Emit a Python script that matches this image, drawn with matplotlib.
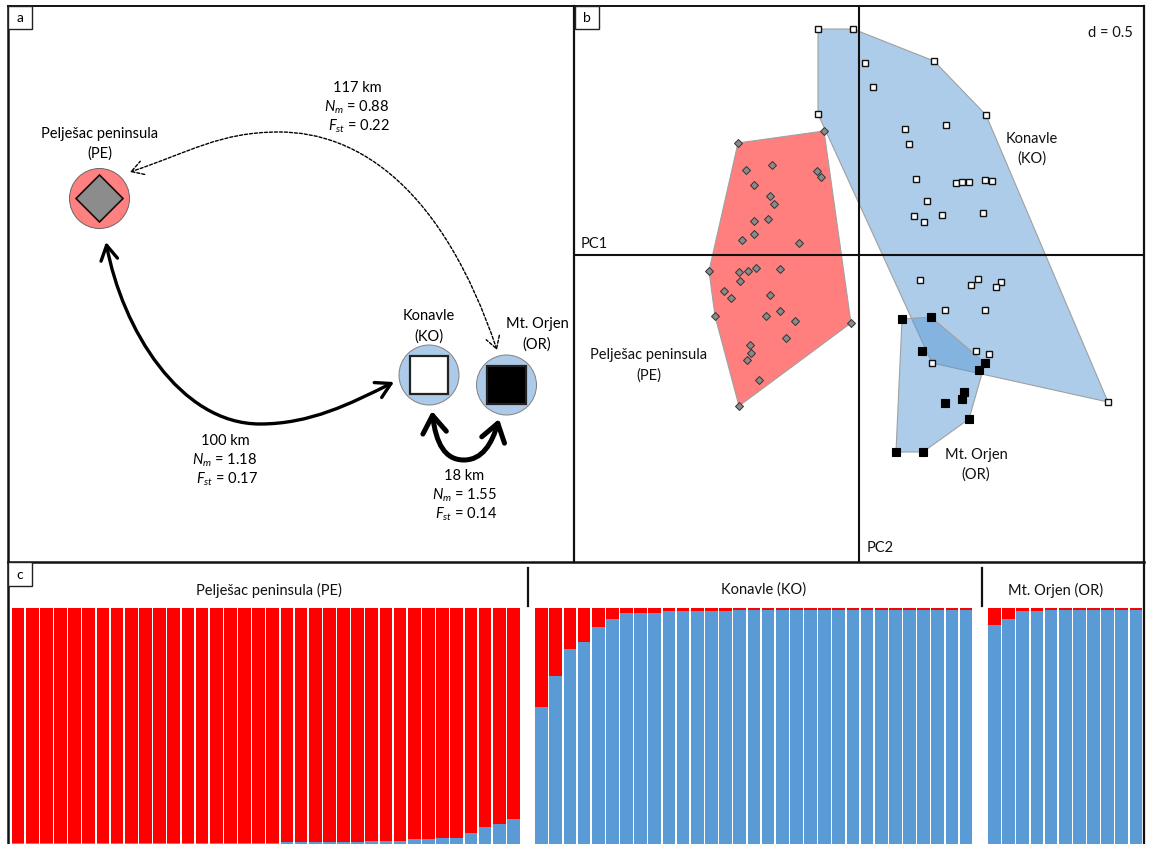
import numpy as np
import matplotlib
matplotlib.use("Agg")
import matplotlib.pyplot as plt
from matplotlib.patches import Circle, Polygon, Rectangle, FancyArrowPatch, ArrowStyle
from matplotlib.path import Path
from matplotlib.lines import Line2D

plt.rcParams['font.family'] = ['Lato', 'DejaVu Sans']
plt.rcParams['mathtext.fontset'] = 'custom'
plt.rcParams['mathtext.rm'] = 'Lato'
plt.rcParams['mathtext.it'] = 'Lato:italic'

# ---------------- data ----------------
populations = ["Pelješac peninsula (PE)", "Konavle (KO)", "Mt. Orjen (OR)"]

# panel b: PCoA scores (PC1 horizontal, PC2 vertical)
pe_pc1 = [-1.21, -0.35, -1.13, -0.87, -0.42, -0.38, -1.05, -0.89, -0.85, -1.05, -0.91, -1.05,
          -1.17, -0.60, -1.50, -1.20, -1.11, -1.03, -0.79, -1.19, -1.35, -1.28, -0.89, -1.44,
          -0.93, -0.79, -0.64, -0.08, -0.73, -1.09, -1.08, -1.12, -1.00, -1.20]
pe_pc2 = [1.12, 1.24, 0.85, 0.90, 0.84, 0.78, 0.70, 0.59, 0.51, 0.34, 0.36, 0.21,
          0.15, 0.12, -0.16, -0.17, -0.16, -0.13, -0.14, -0.26, -0.36, -0.43, -0.40, -0.61,
          -0.61, -0.56, -0.66, -0.68, -0.83, -0.90, -0.98, -1.05, -1.25, -1.51]
ko_pc1 = [-0.41, -0.06, 0.06, 0.14, 0.75, -0.41, 1.27, 0.46, 0.87, 0.50, 0.57, 0.97,
          1.03, 1.10, 1.26, 1.33, 0.68, 0.55, 0.65, 0.83, 1.24, 0.61, 1.19, 1.12,
          1.42, 1.37, 0.86, 1.26, 1.17, 1.30, 0.73, 2.49]
ko_pc2 = [2.26, 2.26, 1.92, 1.68, 1.94, 1.41, 1.40, 1.26, 1.30, 1.11, 0.76, 0.72,
          0.73, 0.73, 0.75, 0.74, 0.54, 0.39, 0.33, 0.40, 0.42, -0.25, -0.24, -0.30,
          -0.27, -0.32, -0.55, -0.55, -0.96, -0.99, -1.08, -1.47]
or_pc1 = [0.43, 0.72, 0.63, 1.26, 1.20, 1.05, 1.03, 0.86, 1.10, 0.37, 0.64]
or_pc2 = [-0.64, -0.62, -0.96, -1.08, -1.15, -1.37, -1.44, -1.48, -1.64, -1.97, -1.97]

# panel c: STRUCTURE membership (K=2), proportion of the blue cluster per individual
pe_blue = [0.003, 0.003, 0.003, 0.003, 0.003, 0.003, 0.006, 0.006, 0.006, 0.006, 0.006, 0.006,
           0.006, 0.006, 0.006, 0.006, 0.006, 0.006, 0.006, 0.010, 0.010, 0.010, 0.010, 0.010,
           0.010, 0.013, 0.013, 0.013, 0.021, 0.021, 0.027, 0.027, 0.047, 0.070, 0.084, 0.107]
ko_blue = [0.579, 0.713, 0.827, 0.854, 0.919, 0.955, 0.977, 0.980, 0.980, 0.989, 0.989, 0.989,
           0.989, 0.989, 0.992, 0.992, 0.992, 0.992, 0.992, 0.992, 0.992, 0.992, 0.992, 0.992,
           0.992, 0.992, 0.992, 0.992, 0.992, 0.992, 0.992]
or_blue = [0.926, 0.955, 0.987, 0.987, 0.992, 0.992, 0.992, 0.992, 0.992, 0.992, 0.992]

# panel a: gene-flow statistics between populations
links = [
    ("PE", "KO", "100 km", "1.18", "0.17"),
    ("KO", "OR", "18 km", "1.55", "0.14"),
    ("PE", "OR", "117 km", "0.88", "0.22"),
]

RED = '#ff0000'
BLUE = '#5b9bd5'
PE_FILL = '#ff8080'
KO_FILL = '#adcbe9'

# ---------------- figure ----------------
W, H = 1149, 845
fig = plt.figure(figsize=(W / 100, H / 100), dpi=100)


def rect(x0, y0, x1, y1):
    return [x0 / W, 1 - y1 / H, (x1 - x0) / W, (y1 - y0) / H]


def fline(x0, y0, x1, y1, lw=1.6):
    fig.add_artist(Line2D([x0 / W, x1 / W], [1 - y0 / H, 1 - y1 / H],
                          transform=fig.transFigure, color='#111111', lw=lw,
                          solid_capstyle='projecting', zorder=5))


def ftext(x, y, s, size=10.5, **kw):
    fig.text(x / W, 1 - y / H, s, fontsize=size, ha=kw.pop('ha', 'center'),
             va=kw.pop('va', 'center'), color='#111111', **kw)


def label_box(x0, y0, x1, y1, s):
    fig.add_artist(Rectangle((x0 / W, 1 - y1 / H), (x1 - x0) / W, (y1 - y0) / H,
                             transform=fig.transFigure, fc='white', ec='#222222',
                             lw=1.0, zorder=6))
    fig.text((x0 + x1) / 2 / W, 1 - (y0 + y1) / 2 / H, s, fontsize=10,
             ha='center', va='center', zorder=7)


# ---------- panel a ----------
axA = fig.add_axes(rect(8, 7, 574, 563))
axA.set_xlim(8, 574)
axA.set_ylim(563, 7)
axA.axis('off')

nodes = {"PE": (99.5, 199.5), "KO": (429.0, 376.0), "OR": (506.5, 386.0)}
R = 30
axA.add_patch(Circle(nodes["PE"], R, fc=PE_FILL, ec='#666666', lw=0.7))
axA.add_patch(Circle(nodes["KO"], R, fc=KO_FILL, ec='#808080', lw=0.7))
axA.add_patch(Circle(nodes["OR"], R, fc=KO_FILL, ec='#808080', lw=0.7))
px, py = nodes["PE"]
d = 23.5
axA.add_patch(Polygon([(px - d, py), (px, py - d), (px + d, py), (px, py + d)],
                      closed=True, fc='#8c8c8c', ec='#111111', lw=1.2))
s = 19.3
kx, ky = nodes["KO"]
axA.add_patch(Rectangle((kx - s, ky - s), 2 * s, 2 * s, fc='white', ec='#222222', lw=1.6))
ox, oy = nodes["OR"]
axA.add_patch(Rectangle((ox - s, oy - s), 2 * s, 2 * s, fc='black', ec='#222222', lw=1.6))

axA.text(99.5, 134, "Pelješac peninsula", ha='center', va='center', fontsize=10.5)
axA.text(99.5, 154, "(PE)", ha='center', va='center', fontsize=10.5)
axA.text(429, 316, "Konavle", ha='center', va='center', fontsize=10.5)
axA.text(429, 337, "(KO)", ha='center', va='center', fontsize=10.5)
axA.text(537, 324, "Mt. Orjen", ha='center', va='center', fontsize=10.5)
axA.text(537, 345, "(OR)", ha='center', va='center', fontsize=10.5)

C4 = Path.CURVE4
codes = [Path.MOVETO, C4, C4, C4, C4, C4, C4]
curve_pe_ko = Path([(106, 243), (122, 330), (180, 425), (260, 425),
                    (310, 425), (350, 405), (394, 383)], codes)
curve_ko_or = Path([(432, 412), (436, 445), (445, 461), (464, 461),
                    (482, 461), (492, 445), (499, 420)], codes)
curve_pe_or = Path([(497, 351), (443, 191), (360, 133), (279, 133),
                    (220, 133), (190, 153), (130, 173)], codes)

axA.add_patch(FancyArrowPatch(path=curve_pe_ko,
                              arrowstyle=ArrowStyle("<->", head_length=10.5, head_width=6),
                              mutation_scale=1, lw=2.4, color='black'))
axA.add_patch(FancyArrowPatch(path=curve_ko_or,
                              arrowstyle=ArrowStyle("<->", head_length=12.5, head_width=8.5),
                              mutation_scale=1, lw=3.6, color='black'))
axA.add_patch(FancyArrowPatch(path=curve_pe_or,
                              arrowstyle=ArrowStyle("<->", head_length=8.5, head_width=5),
                              mutation_scale=1, lw=1.0, color='black',
                              linestyle=(0, (2.2, 1.4))))

stat_pos = {("PE", "KO"): (225, 441), ("KO", "OR"): (464, 476), ("PE", "OR"): (357, 88)}
for a, b, dist, nm, fst in links:
    x, y = stat_pos[(a, b)]
    axA.text(x, y, dist, ha='center', va='center', fontsize=10.5)
    axA.text(x, y + 19, r"$N_m$ = " + nm, ha='center', va='center', fontsize=10.5)
    axA.text(x + 2, y + 38, r"$F_{st}$ = " + fst, ha='center', va='center', fontsize=10.5)

# ---------- panel b ----------
axB = fig.add_axes(rect(574, 7, 1143, 563))
axB.set_xlim(-2.85, 2.84)
axB.set_ylim(-3.07, 2.49)
axB.axis('off')


def hull(xs, ys):
    pts = sorted(set(zip(xs, ys)))

    def cross(o, a, b):
        return (a[0] - o[0]) * (b[1] - o[1]) - (a[1] - o[1]) * (b[0] - o[0])
    lower, upper = [], []
    for p in pts:
        while len(lower) >= 2 and cross(lower[-2], lower[-1], p) <= 0:
            lower.pop()
        lower.append(p)
    for p in reversed(pts):
        while len(upper) >= 2 and cross(upper[-2], upper[-1], p) <= 0:
            upper.pop()
        upper.append(p)
    return lower[:-1] + upper[:-1]


axB.add_patch(Polygon(hull(pe_pc1, pe_pc2), closed=True, fc=RED, alpha=0.5, ec='none'))
axB.add_patch(Polygon(hull(pe_pc1, pe_pc2), closed=True, fc='none', ec='#a0a0a0', lw=0.8))
axB.add_patch(Polygon(hull(ko_pc1, ko_pc2), closed=True, fc=BLUE, alpha=0.5, ec='none'))
axB.add_patch(Polygon(hull(ko_pc1, ko_pc2), closed=True, fc='none', ec='#a0a0a0', lw=0.8))
axB.add_patch(Polygon(hull(or_pc1, or_pc2), closed=True, fc=BLUE, alpha=0.5, ec='none'))
axB.add_patch(Polygon(hull(or_pc1, or_pc2), closed=True, fc='none', ec='#a0a0a0', lw=0.8))

axB.axhline(0, color='#111111', lw=1.5)
axB.axvline(0, color='#111111', lw=1.5)

axB.plot(ko_pc1, ko_pc2, ls='none', marker='s', ms=4.8, mfc='white', mec='#111111', mew=1.0)
axB.plot(or_pc1, or_pc2, ls='none', marker='s', ms=5.2, mfc='black', mec='black', mew=0.8)
axB.plot(pe_pc1, pe_pc2, ls='none', marker='D', ms=4.5, mfc='#8a8a8a', mec='#333333', mew=0.7)

ftext(1133, 33, "d = 0.5", ha='right')
ftext(581, 244, "PC1", ha='left')
ftext(867, 548, "PC2", ha='left')
ftext(1032, 139, "Konavle")
ftext(1032, 159, "(KO)")
ftext(649, 355, "Pelješac peninsula")
ftext(649, 376, "(PE)")
ftext(976, 455, "Mt. Orjen")
ftext(976, 475, "(OR)")

# ---------- panel c ----------
axC = fig.add_axes(rect(11, 609, 1143, 845))
blue_all = pe_blue + ko_blue + or_blue
sizes = [len(pe_blue), len(ko_blue), len(or_blue)]
xpos = np.concatenate([np.arange(sizes[0]),
                       np.arange(sizes[1]) + sizes[0] + 1,
                       np.arange(sizes[2]) + sizes[0] + sizes[1] + 2])
blue_arr = np.array(blue_all)
axC.bar(xpos, blue_arr, width=0.9, color=BLUE, linewidth=0)
axC.bar(xpos, 1 - blue_arr, bottom=blue_arr, width=0.9, color=RED, linewidth=0)
axC.set_xlim(-0.5, xpos[-1] + 0.5)
axC.set_ylim(0, 1)
axC.axis('off')

ftext(269, 590, populations[0], size=10.5)
ftext(764, 590, populations[1], size=10.5)
ftext(1056, 590, populations[2], size=10.5)
fline(527.5, 569, 527.5, 607, lw=1.6)
fline(981.5, 569, 981.5, 607, lw=1.6)

# ---------- frames and panel tags ----------
fline(8, 7, 1144, 7, lw=1.4)
fline(8, 563, 1144, 563, lw=1.8)
fline(8, 7, 8, 845, lw=1.8)
fline(574, 7, 574, 563, lw=1.6)
fline(1144, 7, 1144, 845, lw=1.6)
label_box(8, 7, 32, 30, "a")
label_box(575, 7, 599, 30, "b")
label_box(8, 563, 32, 587, "c")

fig.savefig("out.png", dpi=100)
